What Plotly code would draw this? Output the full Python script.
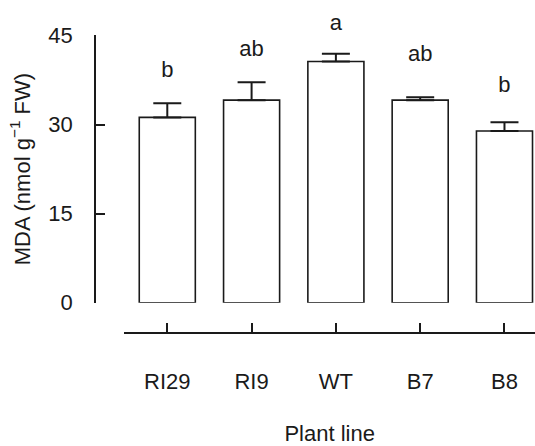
import plotly.graph_objects as go

categories = ["RI29", "RI9", "WT", "B7", "B8"]
mda_mean = [31.2, 34.1, 40.6, 34.1, 28.9]
mda_err = [2.4, 3.0, 1.3, 0.5, 1.5]
letters = ["b", "ab", "a", "ab", "b"]
letter_y = [38.9, 42.4, 46.8, 41.6, 36.4]
y_ticks = [0, 15, 30, 45]

FONT = "Liberation Sans, Arial, Helvetica, sans-serif"
INK = "#1a1a1a"
FS = 22

W, H = 535, 446
ml, mr, mt, mb = 95, 0, 10, 106
ph = H - mt - mb

def fy(px):
    return (H - mb - px) / ph

y0_px, y45_px = 304.3, 33.7
px_per_unit = (y0_px - y45_px) / 45.0

fig = go.Figure()
fig.add_trace(go.Bar(
    x=list(range(len(categories))), y=mda_mean, width=0.665,
    marker=dict(color="white", line=dict(color=INK, width=1.6)),
    error_y=dict(type="data", array=mda_err, arrayminus=[0] * len(mda_err),
                 symmetric=False, color=INK, thickness=2, width=14),
    showlegend=False,
))
fig.add_trace(go.Scatter(
    x=list(range(len(categories))), y=letter_y, text=letters, mode="text",
    textposition="middle center", cliponaxis=False, yaxis="y2",
    textfont=dict(family=FONT, size=FS, color=INK), showlegend=False,
))

fig.update_layout(
    width=W, height=H,
    margin=dict(l=ml, r=mr, t=mt, b=mb, pad=0),
    paper_bgcolor="white", plot_bgcolor="rgba(0,0,0,0)",
    font=dict(family=FONT, size=FS, color=INK),
    xaxis=dict(
        domain=[(124.3 - ml) / (W - ml - mr), 1],
        anchor="free", position=fy(335),
        range=[-0.51, 4.362],
        tickmode="array", tickvals=list(range(len(categories))), ticktext=categories,
        ticks="inside", ticklen=9.5, tickwidth=1.8, tickcolor=INK,
        showline=True, linecolor=INK, linewidth=1.8,
        showgrid=False, zeroline=False,
        ticklabelstandoff=29,
        title=dict(text="Plant line", standoff=36, font=dict(size=FS)),
    ),
    yaxis=dict(
        domain=[fy(y0_px), fy(y45_px)],
        anchor="free", position=0,
        range=[0, 45],
        tickmode="array", tickvals=y_ticks,
        ticks="inside", ticklen=9, tickwidth=1.8, tickcolor=INK,
        showline=True, linecolor=INK, linewidth=1.8,
        showgrid=False, zeroline=False,
        ticklabelstandoff=17,
        title=dict(text="MDA (nmol g<sup>\u22121</sup> FW)", standoff=11, font=dict(size=22)),
    ),
    yaxis2=dict(
        domain=[fy(y0_px), 1],
        anchor="free", position=0,
        range=[0, (y0_px - mt) / px_per_unit],
        visible=False, showgrid=False, zeroline=False,
    ),
)

fig.write_html("out.html")
